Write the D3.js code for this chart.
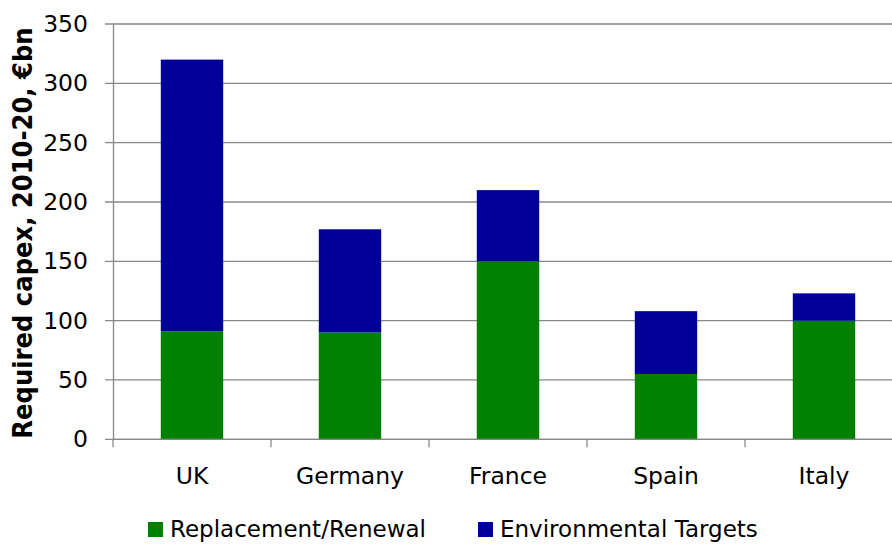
<!DOCTYPE html>
<html lang="en">
<head>
<meta charset="UTF-8">
<title>Required capex</title>
<script src="https://cdnjs.cloudflare.com/ajax/libs/d3/7.8.5/d3.min.js"></script>
<style>
  body { margin: 0; background: #fff; }
  text { font-family: "DejaVu Sans", sans-serif; fill: #000; }
</style>
</head>
<body>
<svg id="chart" width="892" height="544"></svg>
<script>
// data
const countries = ["UK", "Germany", "France", "Spain", "Italy"];
const replacement = [91, 90, 150, 55, 100];
const environmental = [229, 87, 60, 53, 23];
const seriesNames = ["Replacement/Renewal", "Environmental Targets"];
const seriesColors = ["#008000", "#000099"];
const yTicks = [0, 50, 100, 150, 200, 250, 300, 350];

const svg = d3.select("#chart");
const plotLeft = 113, plotRight = 903, plotTop = 24, plotBottom = 439.3;

const x = d3.scaleBand().domain(countries).range([plotLeft, plotRight]).paddingInner(0.605).paddingOuter(0.3025);
const y = d3.scaleLinear().domain([0, 350]).range([plotBottom, plotTop]);

const rows = countries.map((c, i) => ({ country: c, rep: replacement[i], env: environmental[i] }));
const stacked = d3.stack().keys(["rep", "env"])(rows);

// gridlines
svg.append("g")
  .selectAll("line")
  .data(yTicks)
  .join("line")
  .attr("x1", plotLeft - 8).attr("x2", 892)
  .attr("y1", d => y(d)).attr("y2", d => y(d))
  .attr("stroke", "#888").attr("stroke-width", 1.3);

// bars
svg.append("g")
  .selectAll("g")
  .data(stacked)
  .join("g")
  .attr("fill", (d, i) => seriesColors[i])
  .selectAll("rect")
  .data(d => d)
  .join("rect")
  .attr("x", d => x(d.data.country))
  .attr("width", x.bandwidth())
  .attr("y", d => y(d[1]))
  .attr("height", d => y(d[0]) - y(d[1]));

// y axis
const yAxis = svg.append("g")
  .attr("transform", `translate(${plotLeft},0)`)
  .call(d3.axisLeft(y).tickValues(yTicks).tickSize(0).tickPadding(25));
yAxis.select(".domain").attr("stroke", "#888").attr("stroke-width", 1.3);
yAxis.selectAll("text").style("font-size", "23.5px");

// x axis
const xAxis = svg.append("g")
  .attr("transform", `translate(0,${plotBottom})`);
xAxis.append("line")
  .attr("x1", plotLeft).attr("x2", 892)
  .attr("stroke", "#888").attr("stroke-width", 1.3);
const bounds = countries.map(c => x(c) - x.step() * x.paddingInner() / 2);
xAxis.selectAll(".tk")
  .data(bounds.concat([plotRight]))
  .join("line")
  .attr("class", "tk")
  .attr("x1", d => d).attr("x2", d => d)
  .attr("y1", 0).attr("y2", 8)
  .attr("stroke", "#888").attr("stroke-width", 1.3);
xAxis.selectAll(".lbl")
  .data(countries)
  .join("text")
  .attr("class", "lbl")
  .attr("x", d => x(d) + x.bandwidth() / 2)
  .attr("y", 45)
  .attr("text-anchor", "middle")
  .style("font-size", "23.5px")
  .text(d => d);

// y axis title
svg.append("text")
  .attr("transform", "translate(32,233) rotate(-90)")
  .attr("text-anchor", "middle")
  .style("font-family", "'DejaVu Sans Condensed', 'DejaVu Sans', sans-serif")
  .style("font-size", "27px")
  .style("font-weight", "bold")
  .text("Required capex, 2010-20, €bn");

// legend
const legX = [148, 478];
const legend = svg.append("g")
  .selectAll("g")
  .data(seriesNames)
  .join("g")
  .attr("transform", (d, i) => `translate(${legX[i]},522)`);
legend.append("rect")
  .attr("width", 15).attr("height", 15)
  .attr("fill", (d, i) => seriesColors[i]);
legend.append("text")
  .attr("x", 22).attr("y", 15)
  .style("font-size", "23px")
  .text(d => d);
</script>
</body>
</html>
